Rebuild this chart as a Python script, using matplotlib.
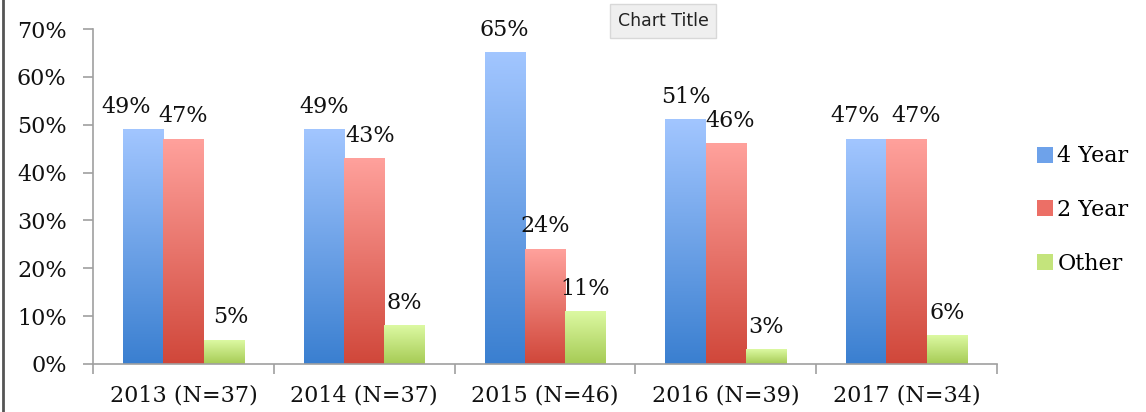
import numpy as np
import matplotlib
matplotlib.use("Agg")
import matplotlib.pyplot as plt
from matplotlib.colors import LinearSegmentedColormap
from matplotlib.patches import Patch
from matplotlib.lines import Line2D

categories = ["2013 (N=37)", "2014 (N=37)", "2015 (N=46)", "2016 (N=39)", "2017 (N=34)"]
series_names = ["4 Year", "2 Year", "Other"]
four_year = [0.49, 0.49, 0.65, 0.51, 0.47]
two_year = [0.47, 0.43, 0.24, 0.46, 0.47]
other = [0.05, 0.08, 0.11, 0.03, 0.06]
y_ticks = [0.0, 0.1, 0.2, 0.3, 0.4, 0.5, 0.6, 0.7]

# gradient (bottom -> top) for each series
gradients = [
    ("#3a7fd0", "#a2c6ff"),
    ("#d0473a", "#ffa19c"),
    ("#a6cb55", "#dcf9a2"),
]
legend_colors = ["#6ea2ea", "#ec6f66", "#c4e47c"]

# small sideways nudges (points) for labels that would collide
label_nudge = [
    [-12, 0, 5],
    [0, 4, 0],
    [0, 0, 0],
    [0, 3, 0],
    [-8, 7, 0],
]

plt.rcParams["font.family"] = ["DejaVu Serif"]
FS = 16
TXT = "#111111"

fig = plt.figure(figsize=(11.46, 4.12), dpi=100)
ax = fig.add_axes([93 / 1146, 1 - 364 / 412, (997 - 93) / 1146, (364 - 29) / 412])

width = 0.223
offsets = [-width, 0, width]
grad = np.linspace(0, 1, 256).reshape(-1, 1)
all_values = [four_year, two_year, other]

for s, values in enumerate(all_values):
    cmap = LinearSegmentedColormap.from_list(series_names[s], gradients[s])
    for i, v in enumerate(values):
        x0 = i + offsets[s] - width / 2
        ax.imshow(grad, extent=[x0, x0 + width, 0, v], origin="lower",
                  cmap=cmap, aspect="auto", zorder=2)
        ax.annotate(f"{round(v * 100)}%", (i + offsets[s], v),
                    xytext=(label_nudge[i][s], 12), textcoords="offset points",
                    ha="center", va="baseline", fontsize=FS, color=TXT)

ax.set_xlim(-0.5, 4.5)
ax.set_ylim(0, 0.7)
ax.set_aspect("auto")

ax.set_yticks(y_ticks)
ax.set_yticklabels([f"{round(t * 100)}%" for t in y_ticks])
ax.set_xticks(range(len(categories)))
ax.set_xticklabels(categories)
ax.set_xticks(np.arange(-0.5, 5, 1), minor=True)
ax.tick_params(axis="x", which="major", length=0, pad=15, labelsize=FS, labelcolor=TXT)
ax.tick_params(axis="x", which="minor", length=7, color="#a0a0a0", width=1.2)
ax.tick_params(axis="y", length=7, color="#a0a0a0", width=1.2, pad=12,
               labelsize=FS, labelcolor=TXT)

for side in ["top", "right"]:
    ax.spines[side].set_visible(False)
for side in ["left", "bottom"]:
    ax.spines[side].set_color("#a0a0a0")
    ax.spines[side].set_linewidth(1.2)

handles = [Patch(facecolor=c, edgecolor="none") for c in legend_colors]
fig.legend(handles, series_names, loc="center left", bbox_to_anchor=(1037 / 1146, 1 - 210 / 412),
           frameon=False, fontsize=FS, handlelength=0.72, handleheight=0.72,
           handletextpad=0.2, labelspacing=1.42, borderaxespad=0, borderpad=0)

# floating "Chart Title" tooltip
fig.text(663 / 1146, 1 - 21 / 412, "Chart Title", ha="center", va="center",
         fontsize=12.5, family="DejaVu Sans", color="#222222",
         bbox=dict(boxstyle="square,pad=0.45", facecolor="#efefef", edgecolor="#d8d8d8"))

# left frame edge
fig.add_artist(Line2D([2.5 / 1146, 2.5 / 1146], [0, 1], transform=fig.transFigure,
                      color="#555555", linewidth=2))

fig.savefig("out.png", dpi=100)
